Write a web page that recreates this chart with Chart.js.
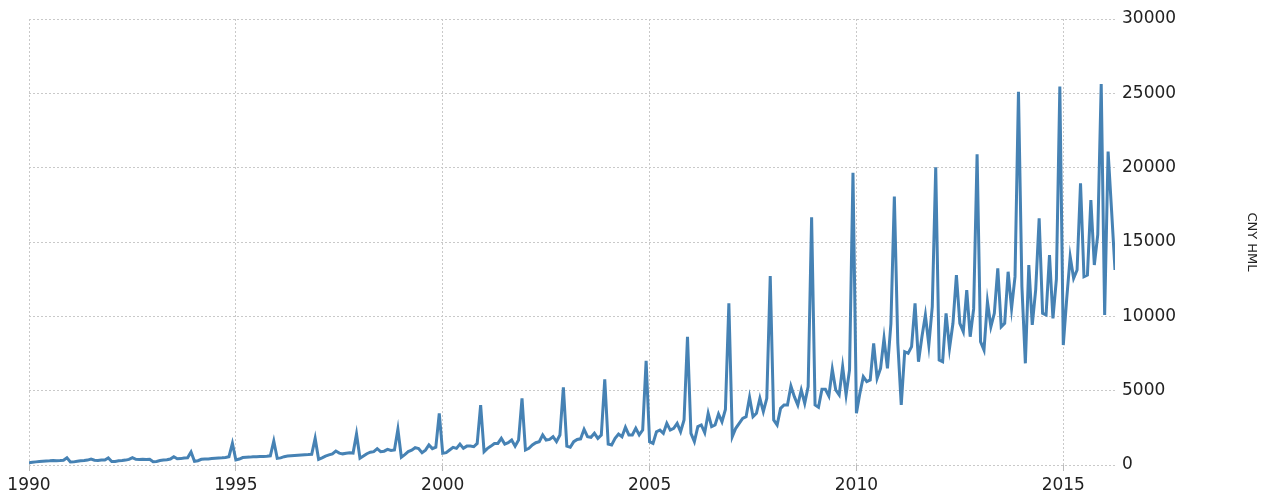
<!DOCTYPE html>
<html>
<head>
<meta charset="utf-8">
<script src="https://cdn.jsdelivr.net/npm/chart.js@4.4.0/dist/chart.umd.min.js"></script>
<style>
  html, body { margin: 0; padding: 0; background: #fff; }
</style>
</head>
<body>
<canvas id="chart" width="1269" height="499"></canvas>
<script>
// monthly values, Jan 1990 .. Apr 2016
const startYear = 1990;
const values1990_1994 = [
  150, 180, 210, 230, 250, 270, 280, 300, 290, 300, 320, 480,
  200, 210, 250, 280, 300, 330, 400, 320, 300, 340, 330, 470,
  230, 230, 280, 300, 330, 380, 500, 380, 370, 380, 370, 390,
  220, 240, 300, 330, 350, 400, 560, 420, 430, 470, 480, 870,
  250, 290, 380, 400, 410, 440, 460, 470, 480, 500, 560, 1460
];
const values1995_1999 = [
  340, 400, 500, 520, 530, 560, 560, 570, 580, 590, 620, 1610,
  450, 480, 560, 600, 620, 640, 660, 680, 690, 700, 720, 1790,
  380, 480, 600, 680, 750, 940, 800, 750, 790, 820, 800, 2085,
  450, 600, 760, 860, 900, 1100, 900, 930, 1050, 980, 1010, 2400,
  520, 700, 900, 1000, 1165, 1100, 830, 1000, 1345, 1100, 1200, 3475
];
const values2000_2004 = [
  785, 830, 1010, 1190, 1120, 1410, 1120, 1270, 1270, 1230, 1450, 4035,
  900, 1120, 1270, 1450, 1450, 1790, 1410, 1500, 1680, 1270, 1680, 4480,
  1010, 1120, 1345, 1500, 1570, 2020, 1680, 1720, 1900, 1570, 2020, 5225,
  1270, 1190, 1570, 1720, 1760, 2400, 1900, 1860, 2130, 1790, 2020, 5760,
  1410, 1345, 1790, 2085, 1900, 2535, 2020, 2020, 2465, 2020, 2350, 7015
];
const values2005_2009 = [
  1570, 1460, 2240, 2350, 2130, 2800, 2350, 2470, 2800, 2240, 3030, 8630,
  2130, 1570, 2580, 2690, 2170, 3475, 2580, 2690, 3430, 2910, 3740, 10870,
  1905, 2470, 2800, 3140, 3250, 4550, 3250, 3475, 4485, 3590, 4485, 12710,
  3030, 2690, 3810, 4035, 4035, 5310, 4600, 4035, 5045, 4150, 5270, 16660,
  4035, 3880, 5090, 5090, 4640, 6435, 5045, 4710, 6615, 4710, 6390, 19660
];
const values2010_2014 = [
  3475, 4820, 5940, 5605, 5720, 8180, 5830, 6500, 8520, 6500, 9500, 18050,
  8200, 4035, 7620, 7510, 7960, 10870, 6950, 8630, 10090, 8070, 10650, 20020,
  7060, 6950, 10200, 7850, 9530, 12780, 9530, 8970, 11770, 8630, 10500, 20900,
  8300, 7730, 10990, 9300, 10200, 13230, 9300, 9530, 13000, 10540, 12670, 25110,
  12000, 6840, 13450, 9420, 11800, 16590, 10200, 10090, 14120, 9860, 12500, 25450
];
const values2015_2016 = [
  8070, 11200, 14010, 12560, 13120, 18940, 12670, 12780, 17820, 13450, 15500, 25630,
  10090, 21080, 17150, 13120
];
const yearTicks = [1990, 1995, 2000, 2005, 2010, 2015];
const valueTicks = [0, 5000, 10000, 15000, 20000, 25000, 30000];
const axisTitle = 'CNY HML';

const allValues = [].concat(values1990_1994, values1995_1999, values2000_2004,
  values2005_2009, values2010_2014, values2015_2016);
const points = allValues.map((v, i) => ({ x: startYear + i / 12, y: v }));

const gridColor = '#c9c9c9';
const tickFont = { family: 'DejaVu Sans', size: 17 };

new Chart(document.getElementById('chart'), {
  type: 'line',
  data: {
    datasets: [{
      data: points,
      borderColor: '#4682b4',
      borderWidth: 3,
      pointRadius: 0,
      tension: 0,
      fill: false
    }]
  },
  options: {
    responsive: false,
    animation: false,
    devicePixelRatio: 1,
    layout: { padding: { left: 29, top: 19, right: 0, bottom: 0 } },
    plugins: { legend: { display: false }, tooltip: { enabled: false } },
    scales: {
      x: {
        type: 'linear',
        min: startYear,
        max: startYear + (allValues.length - 1) / 12,
        afterBuildTicks: scale => {
          scale.ticks = yearTicks.map(v => ({ value: v }));
        },
        afterFit: scale => { scale.height = 34; },
        ticks: {
          color: '#222',
          font: tickFont,
          padding: 4,
          maxRotation: 0,
          callback: v => String(v)
        },
        grid: {
          color: gridColor,
          tickLength: 6,
          tickColor: '#bbb'
        },
        border: { display: false, dash: [2, 2] }
      },
      y: {
        position: 'right',
        min: 0,
        max: 30000,
        afterBuildTicks: scale => {
          scale.ticks = valueTicks.map(v => ({ value: v }));
        },
        afterFit: scale => { scale.width = 154; },
        ticks: {
          color: '#222',
          font: tickFont,
          padding: 7,
          callback: v => String(v)
        },
        grid: {
          color: gridColor,
          drawTicks: false
        },
        border: { display: false, dash: [2, 2] },
        title: {
          display: true,
          text: axisTitle,
          color: '#222',
          font: { family: 'DejaVu Sans', size: 13 },
          padding: { top: 10, bottom: 0 }
        }
      }
    }
  }
});
</script>
</body>
</html>
